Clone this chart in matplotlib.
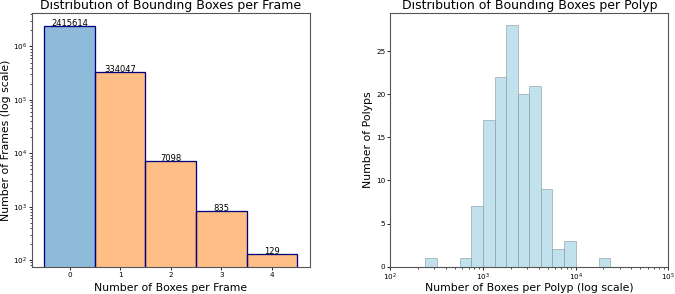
import matplotlib.pyplot as plt
import numpy as np

# boxes per frame
box_counts = [0, 1, 2, 3, 4]
frame_counts = [2415614, 334047, 7098, 835, 129]
bar_colors = ['#1f77b4', '#ff7f0e', '#ff7f0e', '#ff7f0e', '#ff7f0e']

# boxes per polyp, histogram on log bins (8 per decade, 10^2 .. 10^5)
polyp_bin_edges = np.logspace(2, 5, 25)
polyp_counts = [0, 0, 0, 1, 0, 0, 1, 7, 17, 22, 28, 20, 21, 9, 2, 3,
                0, 0, 1, 0, 0, 0, 0, 0]

plt.rcParams['font.size'] = 7
plt.rcParams['axes.edgecolor'] = '#555555'
plt.rcParams['axes.linewidth'] = 0.8
for ax_name in ('xtick', 'ytick'):
    plt.rcParams[ax_name + '.major.size'] = 2
    plt.rcParams[ax_name + '.minor.size'] = 1.2
    plt.rcParams[ax_name + '.major.pad'] = 1.5
    plt.rcParams[ax_name + '.minor.pad'] = 1.5
    plt.rcParams[ax_name + '.major.width'] = 0.6
    plt.rcParams[ax_name + '.minor.width'] = 0.5
    plt.rcParams[ax_name + '.labelsize'] = 5.2

fig, (ax1, ax2) = plt.subplots(1, 2, figsize=(6.75, 2.94), dpi=100)
fig.subplots_adjust(left=0.047, right=0.99, bottom=0.093, top=0.955, wspace=0.29)

ax1.bar(box_counts, frame_counts, width=1, color=bar_colors, alpha=0.5,
        edgecolor='navy', linewidth=1)
ax1.bar(box_counts, frame_counts, width=1, fill=False, edgecolor='navy', linewidth=0.8)
ax1.set_yscale('log')
ax1.set_ylim(75, 4.2e6)
ax1.set_xlim(-0.75, 4.75)
for x, y in zip(box_counts, frame_counts):
    ax1.text(x, y, str(y), ha='center', va='baseline', fontsize=6)
ax1.set_title('Distribution of Bounding Boxes per Frame', fontsize=9, pad=3)
ax1.set_xlabel('Number of Boxes per Frame', fontsize=7.8)
ax1.set_ylabel('Number of Frames (log scale)', fontsize=7.8, labelpad=1)
ax1.xaxis.set_label_coords(0.5, -0.063)

ax2.hist(polyp_bin_edges[:-1], bins=polyp_bin_edges, weights=polyp_counts,
         color='lightblue', alpha=0.75, edgecolor='#8a9fa6', linewidth=0.6)
ax2.set_xscale('log')
ax2.set_xlim(1e2, 1e5)
ax2.set_ylim(0, 29.4)
ax2.set_title('Distribution of Bounding Boxes per Polyp', fontsize=9, pad=3)
ax2.set_xlabel('Number of Boxes per Polyp (log scale)', fontsize=7.8)
ax2.set_ylabel('Number of Polyps', fontsize=7.8, labelpad=2)
ax2.xaxis.set_label_coords(0.5, -0.063)

plt.savefig('out.png')
